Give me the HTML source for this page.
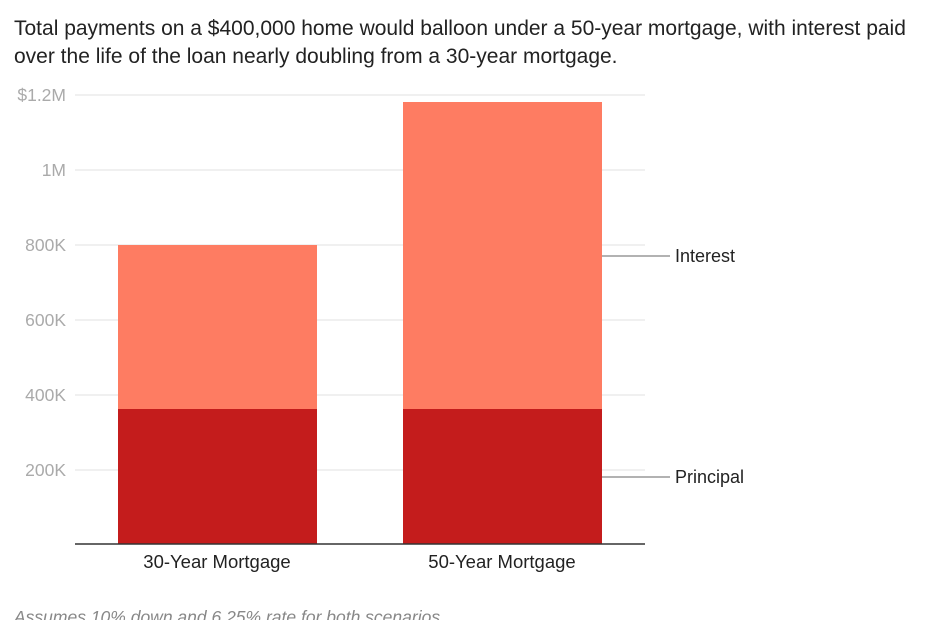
<!DOCTYPE html>
<html><head><meta charset="utf-8"><style>
body{margin:0;width:930px;height:620px;background:#fff;overflow:hidden;position:relative;font-family:"Liberation Sans",sans-serif}
.t{position:absolute;white-space:nowrap}
</style></head><body>
<div class="t" style="left:14px;top:15px;font-size:21px;line-height:28px;color:#222">Total payments on a $400,000 home would balloon under a 50-year mortgage, with interest paid<br>over the life of the loan nearly doubling from a 30-year mortgage.</div>
<svg width="930" height="620" style="position:absolute;left:0;top:0" font-family="Liberation Sans, sans-serif">
<g stroke="#e0e0e0" stroke-width="1">
<line x1="75" x2="645" y1="95" y2="95"/><line x1="75" x2="645" y1="170" y2="170"/><line x1="75" x2="645" y1="245" y2="245"/><line x1="75" x2="645" y1="320" y2="320"/><line x1="75" x2="645" y1="395" y2="395"/><line x1="75" x2="645" y1="470" y2="470"/>
</g>
<g fill="#aaa" font-size="17.5" text-anchor="end">
<text x="66" y="101">$1.2M</text><text x="66" y="176">1M</text><text x="66" y="251">800K</text><text x="66" y="326">600K</text><text x="66" y="401">400K</text><text x="66" y="476">200K</text>
</g>
<rect x="118" y="245" width="199" height="164" fill="#fe7c62"/>
<rect x="118" y="409" width="199" height="135" fill="#c41c1c"/>
<rect x="403" y="102" width="199" height="307" fill="#fe7c62"/>
<rect x="403" y="409" width="199" height="135" fill="#c41c1c"/>
<line x1="75" x2="645" y1="544" y2="544" stroke="#333" stroke-width="1.5"/>
<g stroke="#666" stroke-width="1"><line x1="602" x2="670" y1="256" y2="256"/><line x1="602" x2="670" y1="477" y2="477"/></g>
<g fill="#222" font-size="18"><text x="675" y="262">Interest</text><text x="675" y="483">Principal</text></g>
<g fill="#222" font-size="18.5" text-anchor="middle"><text x="217" y="568">30-Year Mortgage</text><text x="502" y="568">50-Year Mortgage</text></g>
<text x="14" y="623" fill="#888" font-size="17.5" font-style="italic">Assumes 10% down and 6.25% rate for both scenarios</text>
</svg>
</body></html>
